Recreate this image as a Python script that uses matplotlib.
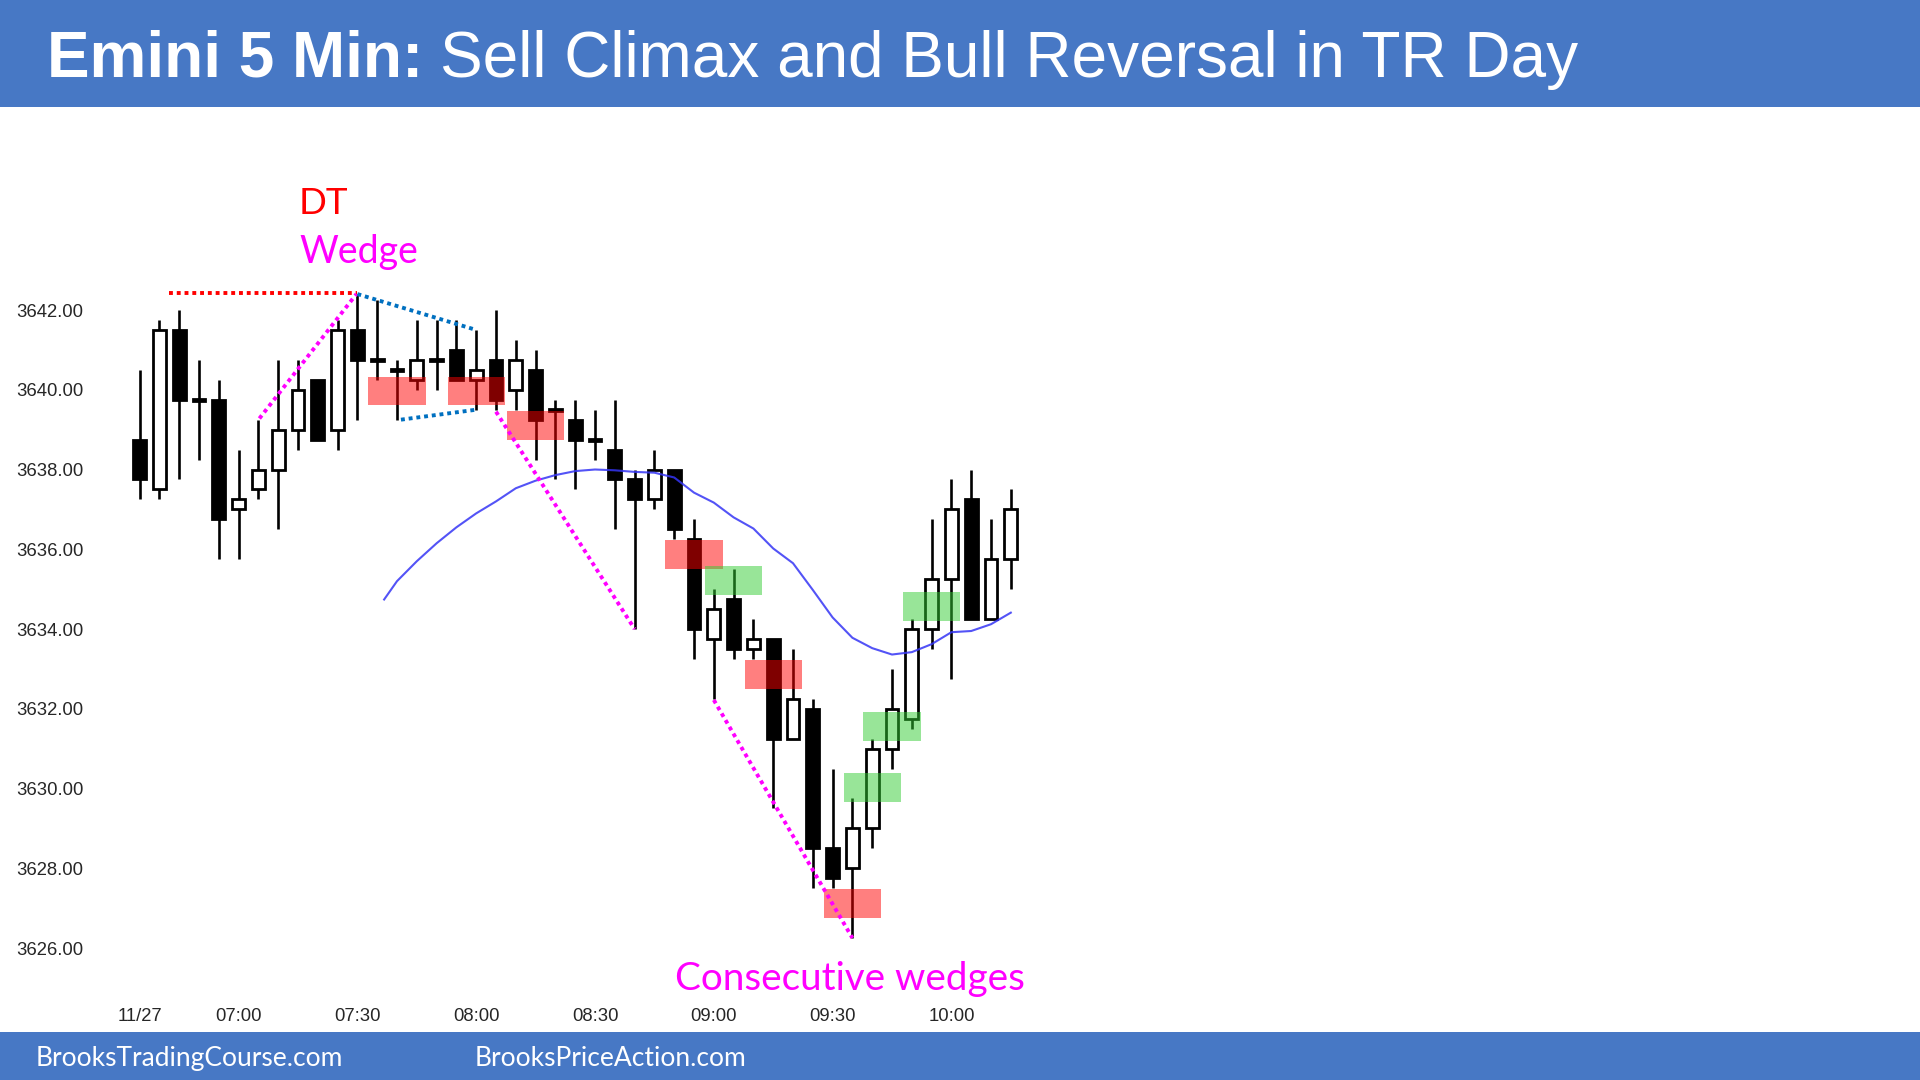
import matplotlib
matplotlib.use('Agg')
import matplotlib.pyplot as plt
from matplotlib.patches import Rectangle

# 5 min bars, 11/27, first bar 06:35
opens = [3638.75, 3637.5, 3641.5, 3639.75, 3639.75, 3637.0, 3637.5, 3638.0, 3639.0, 3640.25,
         3639.0, 3641.5, 3640.75, 3640.5, 3640.25, 3640.75, 3641.0, 3640.25, 3640.75, 3640.0,
         3640.5, 3639.5, 3639.25, 3638.75, 3638.5, 3637.75, 3637.25, 3638.0, 3636.25, 3633.75,
         3634.75, 3633.5, 3633.75, 3631.25, 3632.0, 3628.5, 3628.0, 3629.0, 3631.0, 3631.75,
         3634.0, 3635.25, 3637.25, 3634.25, 3635.75]
highs = [3640.5, 3641.75, 3642.0, 3640.75, 3640.25, 3638.5, 3639.25, 3640.75, 3640.75, 3640.25,
         3641.75, 3642.4, 3642.25, 3640.75, 3641.75, 3641.75, 3641.75, 3641.5, 3642.0, 3641.25,
         3641.0, 3639.75, 3639.75, 3639.5, 3639.75, 3638.0, 3638.5, 3638.0, 3636.75, 3635.0,
         3635.5, 3634.25, 3633.75, 3633.5, 3632.25, 3630.5, 3629.75, 3631.25, 3633.0, 3634.25,
         3636.75, 3637.75, 3638.0, 3636.75, 3637.5]
lows = [3637.25, 3637.25, 3637.75, 3638.25, 3635.75, 3635.75, 3637.25, 3636.5, 3638.5, 3638.75,
        3638.5, 3639.25, 3640.25, 3639.25, 3640.0, 3640.0, 3640.25, 3639.5, 3639.5, 3639.5,
        3638.25, 3637.75, 3637.5, 3638.25, 3636.5, 3634.0, 3637.0, 3636.25, 3633.25, 3632.25,
        3633.25, 3633.25, 3629.5, 3631.25, 3627.5, 3627.5, 3626.25, 3628.5, 3630.5, 3631.5,
        3633.5, 3632.75, 3634.25, 3634.25, 3635.0]
closes = [3637.75, 3641.5, 3639.75, 3639.75, 3636.75, 3637.25, 3638.0, 3639.0, 3640.0, 3638.75,
          3641.5, 3640.75, 3640.75, 3640.5, 3640.75, 3640.75, 3640.25, 3640.5, 3639.75, 3640.75,
          3639.25, 3639.5, 3638.75, 3638.75, 3637.75, 3637.25, 3638.0, 3636.5, 3634.0, 3634.5,
          3633.5, 3633.75, 3631.25, 3632.25, 3628.5, 3627.75, 3629.0, 3631.0, 3632.0, 3634.0,
          3635.25, 3637.0, 3634.25, 3635.75, 3637.0]

# 20 bar EMA (drawn from just after bar 12)
ema_x = [12.35] + list(range(13, 45))
ema = [3634.74, 3635.2, 3635.7, 3636.15, 3636.55, 3636.9, 3637.2, 3637.53, 3637.72, 3637.86,
       3637.96, 3638.0, 3637.98, 3637.94, 3637.92, 3637.8, 3637.42, 3637.17, 3636.8, 3636.52,
       3636.02, 3635.65, 3634.98, 3634.29, 3633.78, 3633.52, 3633.36, 3633.42, 3633.62, 3633.92,
       3633.95, 3634.12, 3634.41]

# signal boxes: bar index and top price
red_box_bars = [13, 17, 20, 28, 32, 36]
red_box_tops = [3640.33, 3640.33, 3639.47, 3636.23, 3633.22, 3627.48]
green_box_bars = [30, 37, 38, 40]
green_box_tops = [3635.58, 3630.39, 3631.92, 3634.93]

# trend lines (bar, price)
dt_line = ([1.5, 11], [3642.42, 3642.42])
wedge_line = ([6.05, 10.95], [3639.28, 3642.4])
triangle_top = ([11, 17], [3642.4, 3641.5])
triangle_bottom = ([13.2, 17], [3639.25, 3639.5])
wedge_down_1 = ([18, 25], [3639.45, 3634.0])
wedge_down_2 = ([29, 36], [3632.22, 3626.25])

tick_bars = [0, 5, 11, 17, 23, 29, 35, 41]
tick_labels = ['11/27', '07:00', '07:30', '08:00', '08:30', '09:00', '09:30', '10:00']
price_ticks = [3626, 3628, 3630, 3632, 3634, 3636, 3638, 3640, 3642]

BLUE = '#4778C5'
calibri_like = 'Lato'

fig = plt.figure(figsize=(19.2, 10.8), dpi=100)

# header and footer bands
fig.patches.append(Rectangle((0, 1 - 107.5 / 1080), 1, 107.5 / 1080, transform=fig.transFigure,
                             facecolor=BLUE, edgecolor='none', zorder=0))
fig.patches.append(Rectangle((0, 0), 1, 48 / 1080, transform=fig.transFigure,
                             facecolor=BLUE, edgecolor='none', zorder=0))
fig.text(47 / 1920, 1 - 76.7 / 1080, 'Emini 5 Min:', color='white', fontsize=46, weight='bold',
         family='Liberation Sans', va='baseline', ha='left')
fig.text(440 / 1920, 1 - 76.7 / 1080, 'Sell Climax and Bull Reversal in TR Day', color='white',
         fontsize=46, family='Liberation Sans', va='baseline', ha='left')
fig.text(35.5 / 1920, 14 / 1080, 'BrooksTradingCourse.com', color='white', fontsize=19,
         family=calibri_like, va='baseline', ha='left')
fig.text(475 / 1920, 14 / 1080, 'BrooksPriceAction.com', color='white', fontsize=19,
         family=calibri_like, va='baseline', ha='left')

ax = fig.add_axes([100 / 1920, 90 / 1080, 1800 / 1920, 870 / 1080])
ax.set_xlim(-2.0, 88.909)
ax.set_ylim(3624.947, 3646.765)
for s in ax.spines.values():
    s.set_visible(False)

# candles
body_w = 0.64
for i in range(len(opens)):
    o, h, l, c = opens[i], highs[i], lows[i], closes[i]
    ax.plot([i, i], [l, h], color='black', lw=1.9, solid_capstyle='butt', zorder=2)
    bottom = min(o, c)
    height = max(abs(c - o), 0.05)
    face = 'white' if c >= o else 'black'
    if c == o:
        face = 'black'
        bottom = o - 0.025
    ax.add_patch(Rectangle((i - body_w / 2, bottom), body_w, height, facecolor=face,
                           edgecolor='black', lw=2.0, zorder=3))

# EMA
ax.plot(ema_x, ema, color='#3535F5', lw=1.5, alpha=0.85, zorder=4)

# signal boxes
box_w = 2.88
box_h = 0.72
for b, t in zip(red_box_bars, red_box_tops):
    ax.add_patch(Rectangle((b - box_w / 2, t - box_h), box_w, box_h, facecolor='red',
                           edgecolor='none', alpha=0.5, zorder=5))
for b, t in zip(green_box_bars, green_box_tops):
    ax.add_patch(Rectangle((b - box_w / 2, t - box_h), box_w, box_h, facecolor='#32CD32',
                           edgecolor='none', alpha=0.5, zorder=5))

# dotted lines
dot = (0, (1, 1))
ax.plot(*dt_line, color='red', lw=2.8, linestyle=dot, zorder=6)
ax.plot(*wedge_line, color='#FF00FF', lw=2.8, linestyle=dot, zorder=6)
ax.plot(*triangle_top, color='#0070C0', lw=2.8, linestyle=dot, zorder=6)
ax.plot(*triangle_bottom, color='#0070C0', lw=2.8, linestyle=dot, zorder=6)
ax.plot(*wedge_down_1, color='#FF00FF', lw=2.8, linestyle=dot, zorder=6)
ax.plot(*wedge_down_2, color='#FF00FF', lw=2.8, linestyle=dot, zorder=6)

# labels
ax.text(8.05, 3644.41, 'DT', color='red', fontsize=26.5, family=calibri_like, va='baseline', ha='left')
ax.text(8.05, 3643.17, 'Wedge', color='#FF00FF', fontsize=27, family=calibri_like,
        va='baseline', ha='left')
ax.text(27.05, 3624.95, 'Consecutive wedges', color='#FF00FF', fontsize=27.8, family=calibri_like,
        va='baseline', ha='left')

ax.set_yticks(price_ticks)
ax.set_yticklabels(['%.2f' % p for p in price_ticks])
ax.set_xticks(tick_bars)
ax.set_xticklabels(tick_labels)
ax.tick_params(axis='y', length=0, pad=12, labelsize=13.3, labelcolor='#262626')
ax.tick_params(axis='x', length=0, pad=13, labelsize=13.3, labelcolor='#262626')
for lab in ax.get_xticklabels() + ax.get_yticklabels():
    lab.set_family('Liberation Sans')

fig.savefig('out.png', dpi=100)
